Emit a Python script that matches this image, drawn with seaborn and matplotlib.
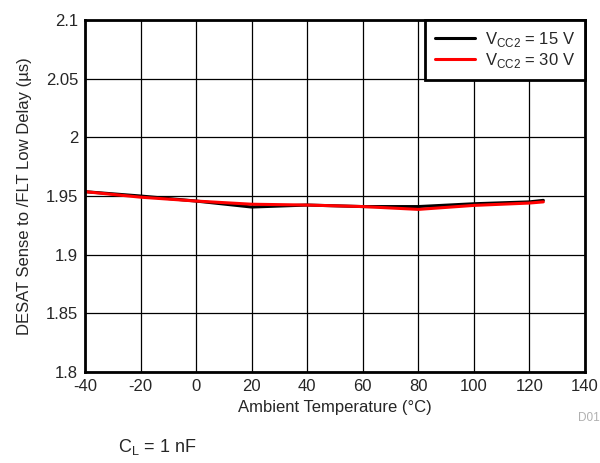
import matplotlib
matplotlib.use("Agg")
import matplotlib.pyplot as plt
import seaborn as sns
import pandas as pd

# Dados
temps = [-40, -20, 0, 20, 40, 60, 80, 100, 120, 125]
delay_15v = [1.9537, 1.950, 1.9457, 1.9406, 1.9423, 1.941, 1.941, 1.9434, 1.945, 1.9463]
delay_30v = [1.9537, 1.949, 1.9457, 1.943, 1.9423, 1.941, 1.9386, 1.942, 1.944, 1.945]
series_labels = ["V$_{\\mathregular{CC2}}$ = 15 V", "V$_{\\mathregular{CC2}}$ = 30 V"]

sns.set_theme(style="white")
plt.rcParams["font.family"] = ["Liberation Sans", "DejaVu Sans"]
plt.rcParams["mathtext.fontset"] = "custom"
plt.rcParams["mathtext.rm"] = "Liberation Sans"
plt.rcParams["axes.unicode_minus"] = False

df = pd.DataFrame({
    "Temp": temps * 2,
    "Delay": delay_15v + delay_30v,
    "Serie": [series_labels[0]] * len(temps) + [series_labels[1]] * len(temps),
})

fig = plt.figure(figsize=(6, 4.63), dpi=100)
ax = fig.add_axes([0.1417, 0.1965, 0.8333, 0.7603])

sns.lineplot(data=df, x="Temp", y="Delay", hue="Serie",
             palette=["black", "#ff0000"], linewidth=2.2, ax=ax)

ax.set_xlim(-40, 140)
ax.set_ylim(1.8, 2.1)
ax.set_xticks(range(-40, 141, 20))
ax.set_yticks([1.8, 1.85, 1.9, 1.95, 2.0, 2.05, 2.1])
ax.set_yticklabels(["1.8", "1.85", "1.9", "1.95", "2", "2.05", "2.1"])
ax.tick_params(labelsize=12, length=0, pad=5)
ax.grid(True, color="black", linewidth=0.9)
for s in ax.spines.values():
    s.set_color("black")
    s.set_linewidth(2)

ax.set_xlabel("Ambient Temperature (°C)", fontsize=12, labelpad=4)
ax.set_ylabel("DESAT Sense to /FLT Low Delay (µs)", fontsize=12, labelpad=10)

leg = ax.legend(loc="upper right", fontsize=12, frameon=True, fancybox=False,
                borderaxespad=0, handlelength=2.4, labelspacing=0.1,
                borderpad=0.6, handletextpad=0.6)
leg.get_frame().set_edgecolor("black")
leg.get_frame().set_linewidth(2)
leg.get_frame().set_alpha(1)

fig.text(0.964, 0.097, "D01", fontsize=8.5, color="#b0b0b0", ha="left", va="center")
fig.text(0.197, 0.012, "C$_{\\mathregular{L}}$ = 1 nF", fontsize=13, ha="left", va="bottom")

fig.savefig("out.png", dpi=100)
